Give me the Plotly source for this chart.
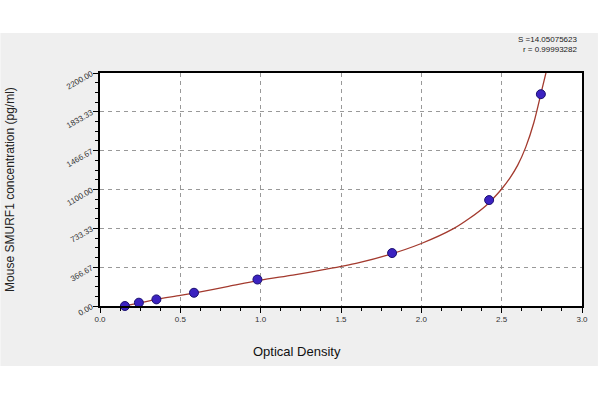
import plotly.graph_objects as go

# Standard points (optical density vs concentration)
od_points = [0.155, 0.242, 0.351, 0.585, 0.98, 1.818, 2.422, 2.744]
conc_points = [0, 31.25, 62.5, 125, 250, 500, 1000, 2000]

# Fitted curve
curve_od = [0.15, 0.25, 0.35, 0.5, 0.6, 0.8, 1.0, 1.2, 1.4, 1.6, 1.8, 2.0, 2.2, 2.3, 2.4,
            2.45, 2.5, 2.55, 2.6, 2.65, 2.7, 2.75, 2.785]
curve_conc = [0, 30, 62, 100, 127, 185, 245, 292, 345, 405, 485, 590, 730, 828, 945,
              1020, 1105, 1205, 1330, 1500, 1730, 2040, 2260]

x_ticks = [0.0, 0.5, 1.0, 1.5, 2.0, 2.5, 3.0]
x_tick_labels = ["0.0", "0.5", "1.0", "1.5", "2.0", "2.5", "3.0"]
y_ticks = [0, 366.67, 733.33, 1100, 1466.67, 1833.33, 2200]
y_tick_labels = ["0.00", "366.67", "733.33", "1100.00", "1466.67", "1833.33", "2200.00"]

fig = go.Figure()
fig.add_trace(go.Scatter(x=curve_od, y=curve_conc, mode="lines", line_shape="spline",
                         line=dict(color="#a33a2e", width=1.3, smoothing=0.8), hoverinfo="skip"))
fig.add_trace(go.Scatter(x=od_points, y=conc_points, mode="markers",
                         marker=dict(color="#3b22c0", size=9, symbol="circle",
                                     line=dict(color="#1a0f70", width=1)),
                         cliponaxis=False))

tick_font = dict(family="Arial, Liberation Sans, sans-serif", size=8, color="#333333")
fig.update_xaxes(range=[0, 3], tickvals=x_ticks, ticktext=x_tick_labels,
                 showline=True, linecolor="black", linewidth=1.5, mirror=True,
                 ticks="outside", ticklen=5, tickcolor="black",
                 minor=dict(ticks="outside", ticklen=3, tickcolor="black", dtick=0.125, showgrid=False),
                 showgrid=True, gridcolor="#999999", griddash="4px,4px", gridwidth=1,
                 zeroline=False, tickfont=tick_font)
fig.update_yaxes(range=[0, 2200], tickvals=y_ticks, ticktext=y_tick_labels, tickangle=-30,
                 showline=True, linecolor="black", linewidth=1.5, mirror=True,
                 ticks="outside", ticklen=5, tickcolor="black",
                 minor=dict(ticks="outside", ticklen=3, tickcolor="black", dtick=91.6675, showgrid=False),
                 showgrid=True, gridcolor="#999999", griddash="4px,4px", gridwidth=1,
                 zeroline=False, tickfont=tick_font)

fig.update_layout(
    width=600, height=400, showlegend=False,
    margin=dict(l=100, r=16, t=73, b=94),
    paper_bgcolor="white", plot_bgcolor="white",
    shapes=[
        dict(type="rect", xref="paper", yref="paper", x0=-100/484, x1=1 + 16/484,
             y0=-(366 - 306)/233, y1=1 + (73 - 33)/233, fillcolor="#efefef",
             line=dict(width=0), layer="below"),
        dict(type="rect", xref="paper", yref="paper", x0=0, x1=1, y0=0, y1=1,
             fillcolor="white", line=dict(width=0), layer="below"),
    ],
    annotations=[
        dict(text="Optical Density", xref="paper", yref="paper", x=(298 - 100)/484, y=-(351 - 306)/233,
             showarrow=False, xanchor="center", yanchor="middle",
             font=dict(family="Arial, Liberation Sans, sans-serif", size=13, color="#111111")),
        dict(text="Mouse SMURF1 concentration (pg/ml)", xref="paper", yref="paper",
             x=-(100 - 9)/484, y=0.5, textangle=-90, showarrow=False,
             xanchor="center", yanchor="middle",
             font=dict(family="Arial, Liberation Sans, sans-serif", size=12, color="#222222")),
        dict(text="S =14.05075623<br>r = 0.99993282", xref="paper", yref="paper",
             x=1 - 2/484, y=1 + (73 - 33)/233, showarrow=False, xanchor="right", yanchor="top",
             align="right",
             font=dict(family="Arial, Liberation Sans, sans-serif", size=8, color="#222222")),
    ],
)

fig.write_html("out.html", config={"displayModeBar": False},
               post_script="document.body.style.margin='0';")
